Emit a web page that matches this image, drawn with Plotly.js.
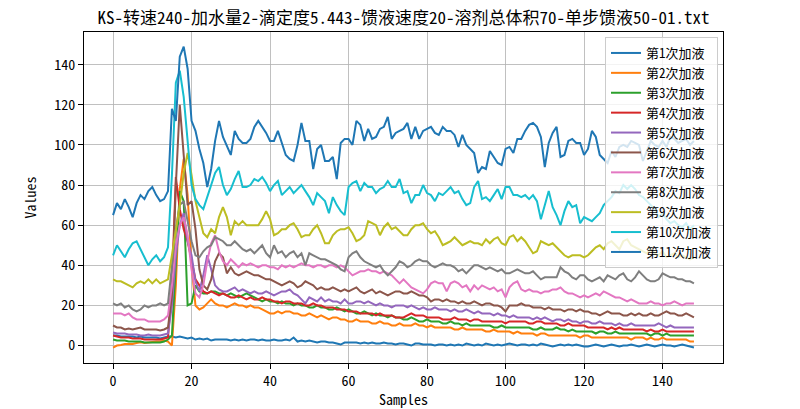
<!DOCTYPE html>
<html>
<head>
<meta charset="utf-8">
<script src="https://cdn.plot.ly/plotly-3.0.1.min.js"></script>
<style>html,body{margin:0;padding:0;background:#fff;}#chart{width:800px;height:409px;}</style>
</head>
<body>
<div id="chart"></div>
<script>
const seriesNames = ["第1次加液","第2次加液","第3次加液","第4次加液","第5次加液","第6次加液","第7次加液","第8次加液","第9次加液","第10次加液","第11次加液"];
const seriesColors = ["#1f77b4","#ff7f0e","#2ca02c","#d62728","#9467bd","#8c564b","#e377c2","#7f7f7f","#bcbd22","#17becf","#1f77b4"];

const s1 = [5,5,4.5,4.5,4.5,4.5,4,4.5,4,4,4,4,3.5,4,4.5,
4.5,4,4.5,4,3.5,4,3,3.5,3,3.5,
2.5,3,3,3,3,2.5,3,2.5,3,2.5,
3,3,2.5,3,2.5,2.5,3,2.5,2.5,3,
2.5,4,2,2.5,2,2.5,2,1.5,2,2,
1.5,1.5,1,0.5,1.5,1.5,1.5,1.5,1,1.5,
1,1.5,1,1,1.5,1,1,0.5,1,1,
0.5,0,1,1,0.5,0.5,0.5,0,0.5,0.5,
0,0.5,0,0.5,0,1,0.5,0,0.5,0,
1,0.5,0,0.5,0,0.5,1,0.5,0,0.5,
0.5,0,0.5,0,1,0.5,0,-0.5,0,0.5,
0,0.5,0,0.5,0,-0.5,-0.5,0,0.5,0,
-0.5,0,0.5,0,-0.5,0,0,0.5,0,-0.5,
0,0.5,0,-0.5,0,0.5,0,0,-0.5,0,
0.5,0,-0.5,-1];
const s2 = [-1,0,0.3,0.8,0.8,0.8,1.3,1.6,1.3,1.6,2,2,2,2.5,2,
0,30,78,93,75,40,20,18,19,21,
23,21,20,20,19,20,21,20,20,19,
20,19,19,18,17,16,16,17,16,17,
17,16,16,15,15,16,15,14,15,14,
13,14,14,13,13,12,12,13,12,12,
12,11,11,12,11,11,10,10,11,10,
10,10,11,10,10,9,10,9,9,9,
9,9,8,8,9,8,8,8,8,8,
7,7,8,7,7,7,7,6,7,6,
6,6,6,5,6,6,5,5,5,5,
5,5,5,5,4,5,5,4,4,4,
4,4,4,4,4,4,4,3,4,4,
4,3,4,3,3,4,3,3,3,3,
3,3,2,2];
const s3 = [3,2.5,2.5,2.5,2,2,2,2,1.5,1.5,1.5,1.5,1.5,2,3,
5,40,77,72,20,21,30,27,26,26,
27,27,26,26,25,26,25,24,25,26,
25,24,23,22,23,22,22,21,22,21,
21,20,21,20,20,19,19,20,19,19,
18,18,19,18,17,18,17,16,16,17,
16,15,16,15,15,14,15,14,14,13,
13,14,13,12,12,13,12,12,12,11,
11,12,11,11,10,11,10,10,10,10,
10,10,9,9,10,9,9,9,9,9,
9,9,8,8,9,8,8,8,9,8,
8,7,8,7,7,7,7,7,6,7,
7,6,6,7,6,6,6,6,6,6,
6,6,5,6,6,5,6,5,5,5,
5,5,5,5];
const s4 = [5,4.5,4,4,4,3.5,3.5,3.5,3,3,3,3,3,3.5,4,
30,84,68,58,52,42,33,30,27,26,
27,26,25,26,25,24,24,25,24,23,
24,23,23,24,23,23,22,22,21,22,
22,21,21,21,20,20,21,20,20,19,
19,19,18,18,18,17,17,17,16,16,
16,16,15,16,15,15,15,14,14,14,
15,16,15,15,15,14,14,14,14,13,
13,13,14,13,13,13,12,13,13,12,
12,12,12,12,12,11,12,12,12,12,
12,11,11,12,12,11,11,11,11,10,
10,11,10,10,10,10,9,9,9,9,
9,8,9,8,9,8,8,8,8,8,
8,7,8,7,7,8,7,7,7,7,
7,7,7,7];
const s5 = [6.5,6,6,6,5.5,5.5,5.5,5,5,5.5,5,5,5,5.5,6,
20,45,60,66,52,45,32,27,35,45,
38,30,28,27,27,28,29,27,28,27,
26,27,26,26,27,26,25,26,27,27,
28,26,25,23,21,24,23,22,24,22,
23,22,22,21,23,21,21,22,22,21,
22,21,20,21,20,20,19,20,20,20,
19,20,19,18,19,18,18,19,18,18,
18,17,18,17,17,18,17,16,17,16,
16,16,15,16,15,15,14,15,14,14,
14,14,13,14,13,14,13,12,13,13,
12,13,12,12,11,12,12,11,11,12,
11,11,11,10,11,10,10,11,10,10,
10,10,10,10,11,10,9,10,9,9,
9,9,9,9];
const s6 = [10,9,9,8,8.5,8,8.5,9,8,8,8,8,7.5,8,9,
25,80,120,95,70,72,58,38,30,28,
33,42,46,44,36,39,36,35,36,37,
36,35,35,34,33,33,32,31,30,31,
32,31,29,30,32,31,30,28,29,28,
28,29,28,27,28,27,28,29,27,26,
27,28,26,27,26,25,26,27,27,26,
26,27,26,25,25,24,22,23,23,22,
23,22,22,21,22,21,21,22,21,20,
21,21,20,20,19,17,20,20,20,21,
20,20,19,19,19,18,19,18,18,18,
17,18,18,17,18,17,17,16,16,15,
16,17,16,16,16,15,15,16,15,16,
15,15,16,15,15,16,17,16,16,15,
15,16,15,14];
const s7 = [16,16,16,15,16,14,13,13,13,12,12,12,12,13,15,
30,50,60,64,55,38,26,24,30,42,
51,55,47,42,40,43,41,39,41,40,
41,40,39,40,40,39,39,38,40,39,
40,39,40,41,40,40,39,40,40,39,
40,40,39,40,39,37,35,36,37,37,
38,37,37,36,37,36,35,33,31,33,
31,29,28,27,26,28,31,32,31,31,
27,31,32,31,29,30,27,30,28,30,
29,28,29,27,28,24,29,31,32,28,
27,28,27,27,26,27,27,28,28,29,
27,26,26,25,24,25,24,25,26,25,
27,26,25,24,24,23,22,23,22,21,
21,21,22,21,21,20,21,21,22,21,
20,21,21,21];
const s8 = [21,20,21,19,20,18,17,18,20,19,20,20,21,20,21,
40,58,70,72,62,52,45,44,47,49,
50,54,53,52,50,50,52,50,48,47,
48,46,48,50,46,44,50,46,47,44,
46,47,44,46,40,46,45,44,43,43,
42,41,40,38,37,44,46,47,44,42,
41,40,39,40,37,35,37,39,42,41,
39,40,42,43,42,42,40,39,40,41,
40,40,39,37,38,36,38,40,40,39,
38,39,38,37,38,36,36,37,38,37,
36,36,37,35,33,34,34,34,34,39,
37,36,34,33,35,35,33,32,33,34,
32,35,34,33,35,36,33,32,34,37,
35,33,32,32,33,36,35,34,34,33,
33,32,32,31];
const s9 = [33,32,32,31,30,29,31,32,31,33,31,33,31,32,33,
45,58,70,86,96,85,72,64,56,54,
58,56,64,69,64,55,62,60,62,60,
60,60,60,63,67,63,55,56,58,58,
60,61,58,54,55,55,58,60,56,51,
51,55,57,58,58,59,56,52,53,55,
62,61,60,55,59,61,58,59,57,55,
55,58,60,60,61,58,56,57,54,50,
51,52,54,52,50,51,52,51,51,50,
53,51,53,54,51,50,54,55,52,54,
52,49,46,47,52,51,50,51,49,47,
45,44,45,45,45,44,45,47,49,50,
48,51,52,50,48,52,53,50,49,48,
47,46,48,46,45,47,44,45,46,44,
45,44,43,44];
const s10 = [45,50,47,44,48,51,52,48,44,40,43,45,42,44,49,
85,131,137,124,102,80,73,70,68,74,
80,86,89,80,75,78,83,87,79,79,
80,83,82,84,81,77,80,82,75,77,
79,76,78,80,77,74,70,76,74,72,
66,74,70,67,65,79,81,82,77,81,
79,79,76,78,79,82,79,79,83,76,
77,71,75,75,80,76,75,72,76,75,
77,79,76,77,73,70,71,79,82,73,
74,72,75,78,73,79,79,75,75,74,
75,73,75,72,63,70,77,69,65,60,
67,72,69,70,61,64,63,62,64,66,
70,72,74,77,76,80,78,80,78,75,
74,72,70,68,64,66,63,61,62,60,
59,61,58,60];
const s11 = [65,71,68,73,69,64,71,75,73,77,
79,75,72,73,77,118,112,144,149,138,
112,107,98,91,79,88,102,112,104,99,
95,107,103,101,101,103,109,112,109,106,
102,102,107,101,95,93,92,100,111,102,
102,88,98,100,92,92,94,83,101,103,
103,100,112,110,102,108,103,104,108,109,
114,103,106,107,108,111,103,109,103,107,
108,109,106,105,109,107,107,105,99,105,
100,98,96,86,89,88,97,94,91,90,
98,99,96,103,103,107,110,111,109,104,
89,101,106,109,94,95,102,103,101,101,
95,98,107,104,95,93,91,97,94,99,
100,99,102,101,100,92,97,102,100,99,
102,99,104,103,101,102,103,100,102];

const allSeries = [s1,s2,s3,s4,s5,s6,s7,s8,s9,s10,s11];

const cjk = '"Noto Sans Mono CJK SC", "Noto Sans CJK SC", "DejaVu Sans Mono", monospace';
const traces = allSeries.map((vals, i) => ({
  type: 'scatter',
  mode: 'lines',
  x: vals.map((_, k) => k),
  y: vals,
  name: seriesNames[i],
  line: {color: seriesColors[i], width: 2}
}));

const axisCommon = {
  showgrid: true,
  gridcolor: '#b0b0b0',
  gridwidth: 0.8,
  zeroline: false,
  showline: true,
  linecolor: '#000',
  linewidth: 1,
  mirror: true,
  ticks: 'outside',
  ticklen: 5,
  tickwidth: 1,
  tickcolor: '#000',
  tickfont: {family: cjk, size: 14, color: '#000'}
};

const layout = {
  width: 800,
  height: 409,
  margin: {l: 84, r: 77, t: 32, b: 46},
  paper_bgcolor: '#fff',
  plot_bgcolor: '#fff',
  showlegend: true,
  title: {
    text: 'KS-转速240-加水量2-滴定度5.443-馈液速度20-溶剂总体积70-单步馈液50-01.txt',
    font: {family: cjk, size: 17, color: '#000'},
    x: 0.5, xref: 'paper', xanchor: 'center',
    y: 1 - 18/409, yref: 'container', yanchor: 'middle'
  },
  xaxis: Object.assign({}, axisCommon, {
    range: [-7.4, 155.4], tick0: 0, dtick: 20,
    title: {text: 'Samples', font: {family: cjk, size: 14, color: '#000'}, standoff: 3}
  }),
  yaxis: Object.assign({}, axisCommon, {
    range: [-8.7, 156.3], tick0: 0, dtick: 20,
    title: {text: 'Values', font: {family: cjk, size: 14, color: '#000'}, standoff: 14}
  }),
  legend: {
    x: 1 - 5/639, y: 1 - 5/331, xanchor: 'right', yanchor: 'top',
    bgcolor: 'rgba(255,255,255,0.8)',
    bordercolor: '#cccccc', borderwidth: 1,
    font: {family: cjk, size: 13, color: '#000'},
    tracegroupgap: 0
  }
};

Plotly.newPlot('chart', traces, layout, {displayModeBar: false, staticPlot: true});
</script>
</body>
</html>
